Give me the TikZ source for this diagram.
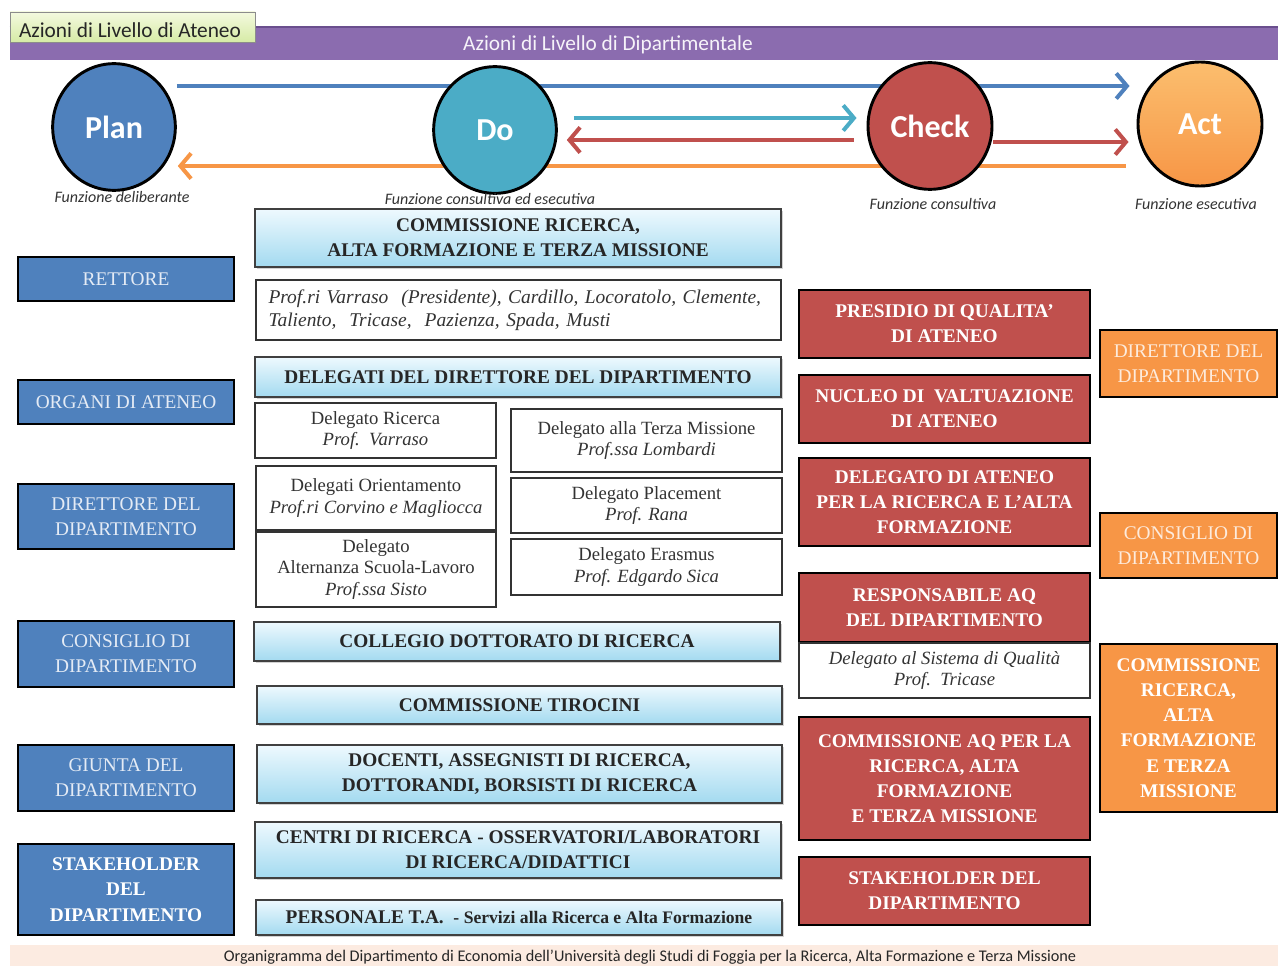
\documentclass[tikz,border=0pt]{standalone}
\usepackage{fontspec}
\setmainfont{Liberation Serif}
\newfontfamily\calfont{Carlito}
\usetikzlibrary{arrows.meta,shadows,backgrounds,shapes.geometric}
\definecolor{pblue}{HTML}{4F81BD}
\definecolor{pteal}{HTML}{4BACC6}
\definecolor{pred}{HTML}{C0504D}
\definecolor{porange}{HTML}{F79646}
\definecolor{acttop}{HTML}{FBBE6E}
\definecolor{ppurple}{HTML}{8B6CAF}
\definecolor{ppurpledark}{HTML}{6A4F8E}
\definecolor{paleblue}{HTML}{E4EBF5}
\definecolor{paleorange}{HTML}{FDEBDD}
\definecolor{cyantop}{HTML}{EEF9FE}
\definecolor{cyanbot}{HTML}{A3DAF0}
\definecolor{greentop}{HTML}{F4FADF}
\definecolor{greenbot}{HTML}{D6EBA6}
\definecolor{capband}{HTML}{FCEBE1}
\newcommand\bigf{\fontsize{14.5}{18.9}\selectfont}
\newcommand\smf{\fontsize{14}{15.9}\selectfont}
\newcommand\bx[7]{\node[#6, minimum width={(#4-#2)*0.75pt}, minimum height={(#5-#3)*0.75pt}] (#1) at ({(#2+#4)/2},{(#3+#5)/2}) {#7};}
\tikzset{
  base/.style={inner sep=0pt, align=center, font=\bigf},
  bluebox/.style={base, draw=black, line width=2pt, fill=pblue, text=paleblue},
  redbox/.style={base, draw=black, line width=2pt, fill=pred, text=white, font=\bigf\bfseries},
  orangebox/.style={base, draw=black, line width=2pt, fill=porange, text=paleorange},
  cyanbox/.style={base, draw=black!75, line width=1.2pt, top color=cyantop, bottom color=cyanbot, font=\bigf\bfseries, text=black!85, drop shadow={shadow xshift=1.2pt, shadow yshift=-1.2pt, opacity=0.35}},
  smallbox/.style={base, draw=black!80, line width=1.1pt, fill=white, font=\smf, text=black!80},
  pdca/.style={ellipse, draw=black, line width=2.2pt, inner sep=0pt, text=white, font=\calfont\bfseries\fontsize{24}{28}\selectfont},
  fn/.style={font=\calfont\itshape\fontsize{12}{14}\selectfont, text=black!80, inner sep=0pt},
  arr/.style={line width=3pt, -{Straight Barb[length=8pt,width=19pt]}},
}
\begin{document}
\begin{tikzpicture}[x=0.75pt,y=-0.75pt]
\useasboundingbox (0,0) rectangle (1278,966);
% header bands
\bx{dipband}{10}{27}{1278}{60}{base, fill=ppurple}{}
\draw[ppurpledark, line width=1.5pt] (dipband.north west) -- (dipband.north east);
\node[font=\calfont\fontsize{16}{19}\selectfont, text=white!92!ppurple, inner sep=0pt] (dipT) at (608,45) {Azioni di Livello di Dipartimentale};
\bx{atn}{10}{12}{255}{42}{base, draw=black!45, line width=0.6pt, top color=greentop, bottom color=greenbot, font=\calfont\fontsize{16}{19}\selectfont, text=black!85}{}
\node[font=\calfont\fontsize{16}{19}\selectfont, text=black!85, inner sep=0pt] (atnT) at (130,30) {Azioni di Livello di Ateneo};
% PDCA circles
\node[pdca, fill=pblue, minimum width=92pt, minimum height=95pt] (plan) at (114,127) {Plan};
\node[pdca, fill=pteal, minimum width=92pt, minimum height=95pt] (do) at (495,130) {Do};
\node[pdca, fill=pred, minimum width=93pt, minimum height=95pt] (check) at (930,126) {Check};
\node[pdca, top color=acttop, bottom color=porange, minimum width=93pt, minimum height=93pt] (act) at (1200,124) {Act};
\begin{scope}[on background layer]
  \fill[white] (0,0) rectangle (1278,966);
  \draw[arr, pblue] ([yshift=30.75pt]plan.east) -- ([xshift=-5.25pt,yshift=28.5pt]act.west);
  \draw[arr, pteal] ([xshift=12pt,yshift=9pt]do.east) -- ([xshift=-7.5pt,yshift=6pt]check.west);
  \draw[arr, pred] ([xshift=-9.75pt,yshift=-10.5pt]check.west) -- ([xshift=6.75pt,yshift=-7.5pt]do.east);
  \draw[arr, pred] ([yshift=-12pt]check.east) -- ([xshift=-6pt,yshift=-13.5pt]act.west);
  \draw[arr, porange] ([xshift=-8.25pt,yshift=-31.5pt]act.west) -- ([xshift=0.75pt,yshift=-29.25pt]plan.east);
\end{scope}
\node[fn] (fplan) at (122,197) {Funzione deliberante};
\node[fn] (fdo) at (490,199) {Funzione consultiva ed esecutiva};
\node[fn] (fcheck) at (933,204) {Funzione consultiva};
\node[fn] (fact) at (1196,204) {Funzione esecutiva};
% left column
\bx{rett}{18}{257}{234}{301}{bluebox}{RETTORE}
\bx{org}{18}{380}{234}{424}{bluebox}{ORGANI DI ATENEO}
\bx{dirL}{18}{484}{234}{549}{bluebox}{DIRETTORE DEL\\DIPARTIMENTO}
\bx{consL}{18}{621}{234}{687}{bluebox}{CONSIGLIO DI\\DIPARTIMENTO}
\bx{giunta}{18}{745}{234}{811}{bluebox}{GIUNTA DEL\\DIPARTIMENTO}
\bx{stakeL}{18}{844}{234}{935}{bluebox, text=white, font=\bigf\bfseries}{STAKEHOLDER\\DEL\\DIPARTIMENTO}
% middle column
\bx{commH}{255}{209}{781}{267}{cyanbox}{COMMISSIONE RICERCA,\\ALTA FORMAZIONE E TERZA MISSIONE}
\bx{profs}{256}{280}{781}{340}{smallbox, font=\fontsize{14.6}{17.4}\selectfont\itshape, align=left, text width=500*0.75pt}{Prof.ri Varraso\ \ (Presidente), Cardillo, Locoratolo, Clemente,\\Taliento,\ \ Tricase,\ \ Pazienza, Spada, Musti}
\bx{delH}{255}{357}{781}{397}{cyanbox}{DELEGATI DEL DIRETTORE DEL DIPARTIMENTO}
\bx{dRic}{255}{403}{496}{458}{smallbox}{Delegato Ricerca\\\textit{Prof.\ \ Varraso}}
\bx{dTer}{511}{409}{782}{472}{smallbox}{Delegato alla Terza Missione\\\textit{Prof.ssa Lombardi}}
\bx{dOri}{256}{466}{496}{530}{smallbox}{Delegati Orientamento\\\textit{Prof.ri Corvino e Magliocca}}
\bx{dPla}{511}{478}{782}{533}{smallbox}{Delegato Placement\\\textit{Prof. Rana}}
\bx{dAlt}{256}{532}{496}{607}{smallbox}{Delegato\\Alternanza Scuola-Lavoro\\\textit{Prof.ssa Sisto}}
\bx{dEra}{511}{539}{782}{595}{smallbox}{Delegato Erasmus\\\textit{Prof. Edgardo Sica}}
\bx{coll}{254}{622}{780}{661}{cyanbox}{COLLEGIO DOTTORATO DI RICERCA}
\bx{tiro}{257}{686}{782}{724}{cyanbox}{COMMISSIONE TIROCINI}
\bx{doc}{257}{745}{782}{803}{cyanbox}{DOCENTI, ASSEGNISTI DI RICERCA,\\DOTTORANDI, BORSISTI DI RICERCA}
\bx{centri}{255}{822}{781}{878}{cyanbox}{CENTRI DI RICERCA - OSSERVATORI/LABORATORI\\DI RICERCA/DIDATTICI}
\bx{pers}{256}{900}{782}{935}{cyanbox}{PERSONALE T.A.\ \ {\fontsize{13.2}{15}\selectfont - Servizi alla Ricerca e Alta Formazione}}
% red column
\bx{pres}{799}{290}{1090}{358}{redbox}{PRESIDIO DI QUALITA’\\DI ATENEO}
\bx{nuc}{799}{375}{1090}{443}{redbox}{NUCLEO DI\ \ VALTUAZIONE\\DI ATENEO}
\bx{delAt}{799}{458}{1090}{546}{redbox}{DELEGATO DI ATENEO\\PER LA RICERCA E L’ALTA\\FORMAZIONE}
\bx{resp}{799}{573}{1090}{642}{redbox}{RESPONSABILE AQ\\DEL DIPARTIMENTO}
\bx{sist}{799}{643}{1090}{698}{smallbox, font=\smf\itshape}{Delegato al Sistema di Qualità\\Prof.\ \ Tricase}
\bx{commAQ}{799}{717}{1090}{840}{redbox}{COMMISSIONE AQ PER LA\\RICERCA, ALTA\\FORMAZIONE\\E TERZA MISSIONE}
\bx{stakeR}{799}{857}{1090}{925}{redbox}{STAKEHOLDER DEL\\DIPARTIMENTO}
% orange column
\bx{dirR}{1100}{330}{1277}{397}{orangebox}{DIRETTORE DEL\\DIPARTIMENTO}
\bx{consR}{1100}{513}{1277}{578}{orangebox}{CONSIGLIO DI\\DIPARTIMENTO}
\bx{commR}{1100}{644}{1277}{812}{orangebox, text=white, font=\bigf\bfseries}{COMMISSIONE\\RICERCA,\\ALTA\\FORMAZIONE\\E TERZA\\MISSIONE}
% caption band
\bx{capb}{10}{945}{1278}{966}{base, fill=capband}{}
\node[anchor=base, inner sep=0pt, font=\calfont\fontsize{12.2}{14}\selectfont, text=black!85] (capT) at (650,961) {Organigramma del Dipartimento di Economia dell’Università degli Studi di Foggia per la Ricerca, Alta Formazione e Terza Missione};
\end{tikzpicture}
\end{document}
